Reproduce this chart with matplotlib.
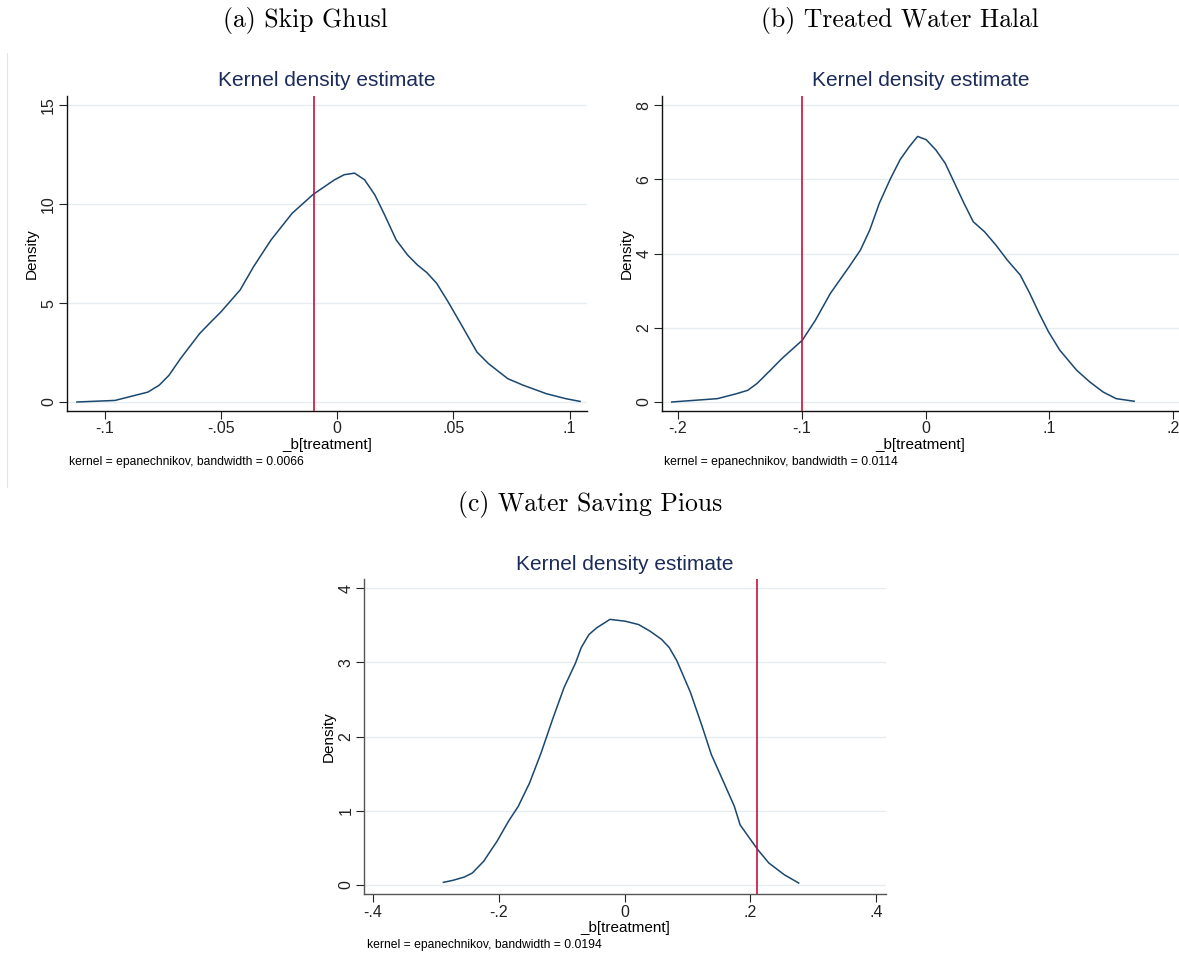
import matplotlib
matplotlib.use('Agg')
import matplotlib.pyplot as plt
from matplotlib.lines import Line2D

plt.rcParams['font.family'] = ['Liberation Sans', 'DejaVu Sans']

# ---------------- data ----------------
captions = ["(a) Skip Ghusl", "(b) Treated Water Halal", "(c) Water Saving Pious"]
notes = ["kernel = epanechnikov, bandwidth = 0.0066",
         "kernel = epanechnikov, bandwidth = 0.0114",
         "kernel = epanechnikov, bandwidth = 0.0194"]

a_x = [-0.112, -0.0956, -0.0815, -0.0766, -0.0724, -0.0674, -0.0592, -0.055, -0.050,
       -0.0418, -0.036, -0.0285, -0.0194, -0.0103, -0.0012, 0.003, 0.0075, 0.0118,
       0.0162, 0.0204, 0.0254, 0.0303, 0.0345, 0.0386, 0.0428, 0.0477, 0.0535, 0.0601,
       0.0651, 0.0734, 0.080, 0.090, 0.0983, 0.1045]
a_y = [0.0, 0.08, 0.5, 0.85, 1.35, 2.2, 3.46, 3.97, 4.56,
       5.66, 6.84, 8.19, 9.54, 10.5, 11.23, 11.49, 11.57, 11.23,
       10.47, 9.46, 8.19, 7.43, 6.93, 6.54, 6.0, 5.07, 3.89, 2.53,
       1.94, 1.18, 0.85, 0.42, 0.17, 0.03]
a_ref = -0.0100

b_x = [-0.2049, -0.168, -0.153, -0.1435, -0.136, -0.1253, -0.116, -0.107, -0.0995,
       -0.089, -0.0768, -0.0616, -0.0525, -0.045, -0.0373, -0.0282, -0.0206, -0.013,
       -0.0064, 0.0006, 0.0082, 0.0158, 0.0234, 0.031, 0.0385, 0.0476, 0.0568, 0.0659,
       0.0765, 0.0841, 0.0917, 0.0993, 0.1083, 0.122, 0.1326, 0.1433, 0.1539, 0.1684]
b_y = [0.0, 0.09, 0.22, 0.315, 0.5, 0.855, 1.17, 1.44, 1.665,
       2.2, 2.93, 3.65, 4.1, 4.64, 5.36, 6.03, 6.53, 6.89,
       7.16, 7.07, 6.8, 6.44, 5.9, 5.36, 4.86, 4.59, 4.23, 3.83,
       3.42, 2.93, 2.39, 1.89, 1.4, 0.855, 0.54, 0.27, 0.09, 0.02]
b_ref = -0.0998

c_x = [-0.288, -0.273, -0.2545, -0.242, -0.224, -0.2027, -0.1845, -0.169, -0.151,
       -0.1327, -0.1145, -0.0962, -0.078, -0.0688, -0.0566, -0.0444, -0.0231, 0.0012,
       0.0225, 0.0408, 0.059, 0.0712, 0.0834, 0.1047, 0.123, 0.138, 0.1559, 0.1747,
       0.1839, 0.199, 0.212, 0.2295, 0.2539, 0.277]
c_y = [0.036, 0.063, 0.108, 0.162, 0.32, 0.59, 0.86, 1.06, 1.375,
       1.78, 2.23, 2.66, 2.99, 3.2, 3.375, 3.465, 3.58, 3.555,
       3.51, 3.42, 3.31, 3.2, 3.02, 2.6, 2.15, 1.76, 1.42, 1.06,
       0.81, 0.63, 0.476, 0.297, 0.14, 0.027]
c_ref = 0.211

a_xticks = [-0.1, -0.05, 0, 0.05, 0.1]
a_xlabels = ["-.1", "-.05", "0", ".05", ".1"]
a_yticks = [0, 5, 10, 15]
a_ylabels = ["0", "5", "10", "15"]

b_xticks = [-0.2, -0.1, 0, 0.1, 0.2]
b_xlabels = ["-.2", "-.1", "0", ".1", ".2"]
b_yticks = [0, 2, 4, 6, 8]
b_ylabels = ["0", "2", "4", "6", "8"]

c_xticks = [-0.4, -0.2, 0, 0.2, 0.4]
c_xlabels = ["-.4", "-.2", "0", ".2", ".4"]
c_yticks = [0, 1, 2, 3, 4]
c_ylabels = ["0", "1", "2", "3", "4"]

# ---------------- figure ----------------
W, H = 1179, 955
fig = plt.figure(figsize=(W / 100, H / 100), dpi=100)

NAVY = '#1a476f'
RED = '#c8103c'
TITLE = '#1c2c5a'
GRID = '#e6edf1'


def px(x0, y0, x1, y1):
    """convert pixel box (left, top, right, bottom) to fig fraction rect"""
    return [x0 / W, 1 - y1 / H, (x1 - x0) / W, (y1 - y0) / H]


def panel(rect, xs, ys, ref, xlim, ylim, xt, xl, yt, yl, note, spine_col):
    ax = fig.add_axes(rect)
    ax.set_xlim(*xlim)
    ax.set_ylim(*ylim)
    for yv in yt:
        ax.axhline(yv, color=GRID, lw=1.0, zorder=0)
    ax.plot(xs, ys, color=NAVY, lw=1.1, zorder=2)
    ax.axvline(ref, color=RED, lw=1.2, zorder=3)
    ax.set_xticks(xt)
    ax.set_xticklabels(xl, fontsize=11.5)
    ax.set_yticks(yt)
    ax.set_yticklabels(yl, fontsize=11.5, rotation=90, va='center')
    ax.tick_params(direction='out', length=5.5, width=0.8, colors='#222222', pad=2)
    for s in ('top', 'right'):
        ax.spines[s].set_visible(False)
    for s in ('left', 'bottom'):
        ax.spines[s].set_color(spine_col)
        ax.spines[s].set_linewidth(1.0)
    ax.set_xlabel('_b[treatment]', fontsize=11, labelpad=1)
    ax.set_ylabel('Density', fontsize=11, labelpad=2)
    ax.set_title('Kernel density estimate', fontsize=15, color=TITLE, pad=7)
    ax.text(0.005, -0.162, note, transform=ax.transAxes, fontsize=8.7,
            ha='left', va='center')
    return ax


panel(px(66.5, 96, 587, 411), a_x, a_y, a_ref, (-0.1165, 0.1075), (-0.455, 15.47),
      a_xticks, a_xlabels, a_yticks, a_ylabels, notes[0], '#111111')
panel(px(661.7, 96, 1179, 411), b_x, b_y, b_ref, (-0.213, 0.2046), (-0.243, 8.25),
      b_xticks, b_xlabels, b_yticks, b_ylabels, notes[1], '#111111')
panel(px(364, 579.3, 885.7, 894.3), c_x, c_y, c_ref, (-0.4143, 0.4154), (-0.125, 4.12),
      c_xticks, c_xlabels, c_yticks, c_ylabels, notes[2], '#555555')

# subcaptions
fig.text(305 / W, 1 - 20 / H, captions[0], fontsize=18.5, family='cmr10', ha='center', va='center')
fig.text(900 / W, 1 - 20 / H, captions[1], fontsize=18.5, family='cmr10', ha='center', va='center')
fig.text(590 / W, 1 - 505 / H, captions[2], fontsize=18.5, family='cmr10', ha='center', va='center')

# faint border line at far left of panel (a)
fig.add_artist(Line2D([7.5 / W, 7.5 / W], [1 - 53 / H, 1 - 487 / H], color='#e4e4e4', lw=0.8))

fig.savefig('out.png', dpi=100)
